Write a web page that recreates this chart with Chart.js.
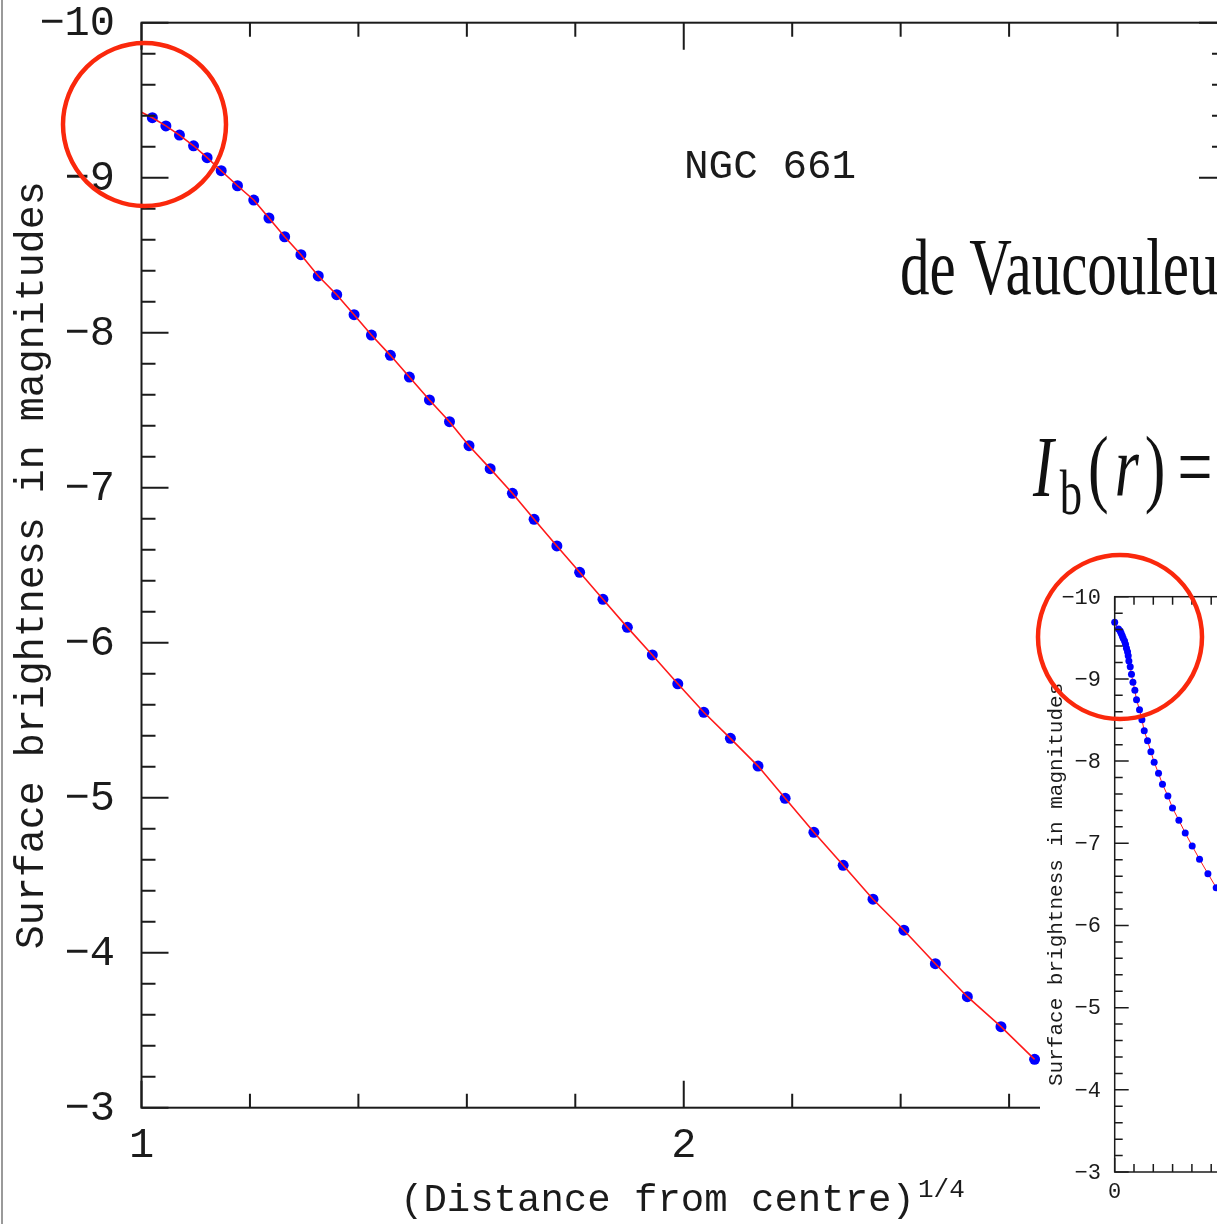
<!DOCTYPE html>
<html>
<head>
<meta charset="utf-8">
<script src="https://cdn.jsdelivr.net/npm/chart.js"></script>
<style>
  html, body { margin: 0; padding: 0; background: #fff; overflow: hidden; }
  #page { position: relative; width: 1217px; height: 1224px; overflow: hidden; background: #fff; }
  #main { position: absolute; left: 0; top: 0; }
  #inset { position: absolute; left: 1030px; top: 190px; }
  #edge { position: absolute; left: 1px; top: 0; width: 2px; height: 1224px; background: #9a9a9a; }
  .tex { position: absolute; font-family: "Liberation Serif", serif; color: #111; white-space: nowrap; transform-origin: 0 0; line-height: 1; }
  #title1 { left: 900px; top: 228px; font-size: 59px; transform: scaleY(1.35); }
  #formula { left: 1033px; top: 423px; font-size: 62px; letter-spacing: 6px; transform: scaleY(1.4); }
  #formula i { font-style: italic; }
  #formula .sub { font-size: 0.72em; vertical-align: -13px; }
  #formula .eq { margin-left: 6px; }
</style>
</head>
<body>
<div id="page">
  <canvas id="main" width="1240" height="1224"></canvas>
  <canvas id="inset" width="480" height="1034"></canvas>
  <div id="edge"></div>
  <div class="tex" id="title1">de Vaucouleurs</div>
  <div class="tex" id="formula"><i>I</i><span class="sub">b</span>(<i>r</i>)<span class="eq">=</span></div>
</div>
<script>
// main panel: surface brightness vs (distance)^1/4
const mainX = [1.020, 1.045, 1.070, 1.096, 1.121, 1.147, 1.177, 1.207, 1.235, 1.264,
  1.294, 1.326, 1.360, 1.392, 1.424, 1.459, 1.494, 1.531, 1.568, 1.604,
  1.643, 1.684, 1.724, 1.766, 1.808, 1.851, 1.896, 1.942, 1.989, 2.037,
  2.086, 2.137, 2.187, 2.240, 2.294, 2.349, 2.406, 2.464, 2.523, 2.585, 2.647];
const mainY = [-9.387, -9.334, -9.275, -9.206, -9.129, -9.045, -8.948, -8.856, -8.740, -8.619,
  -8.503, -8.366, -8.245, -8.116, -7.985, -7.854, -7.714, -7.566, -7.426, -7.271,
  -7.123, -6.964, -6.796, -6.624, -6.454, -6.280, -6.099, -5.921, -5.735, -5.551,
  -5.383, -5.204, -4.996, -4.777, -4.564, -4.345, -4.145, -3.929, -3.716, -3.523, -3.312];
const fitStart = [1.0, -9.422]; // red curve begins on the axis

// inset panel: surface brightness vs distance
const insetR = [0.0, 0.39, 0.57, 0.67, 0.78, 0.88, 1.02, 1.12, 1.22, 1.33,
  1.40, 1.47, 1.61, 1.74, 1.89, 2.09, 2.26, 2.57, 2.82, 3.06,
  3.40, 3.75, 4.09, 4.54, 4.95, 5.51, 5.99, 6.65, 7.31, 8.03,
  8.79, 9.66, 10.52];
const insetMag = [-9.689, -9.607, -9.583, -9.555, -9.526, -9.494, -9.461, -9.421, -9.372, -9.331,
  -9.282, -9.218, -9.148, -9.056, -8.959, -8.861, -8.747, -8.625, -8.504, -8.370,
  -8.248, -8.114, -7.985, -7.852, -7.718, -7.575, -7.429, -7.280, -7.125, -6.967,
  -6.805, -6.630, -6.460];

const yTicks = [-10, -9, -8, -7, -6, -5, -4, -3];
const xTicks = [1, 2, 3];
const insetXTicks = [0, 20, 40];

const MONO = '"Liberation Mono", monospace';
const INK = "#1b1b1b";
const CIRCLE = "rgb(250, 40, 12)";

const lab = (v) => (v < 0 ? "\u2212" + Math.abs(v) : String(v));
const pts = (xs, ys) => xs.map((x, i) => ({ x, y: ys[i] }));

// frame with inward major/minor ticks on all four sides
function drawFrame(chart, o) {
  const { ctx, chartArea: a } = chart;
  const xs = chart.scales.x, ys = chart.scales.y;
  ctx.save();
  ctx.strokeStyle = INK;
  ctx.lineWidth = o.lw;
  ctx.strokeRect(a.left, a.top, a.right - a.left, a.bottom - a.top);
  ctx.beginPath();
  const ny = Math.round((ys.max - ys.min) / o.yStep);
  for (let k = 0; k <= ny; k++) {
    const py = ys.getPixelForValue(ys.min + k * o.yStep);
    const len = k % o.yEvery === 0 ? o.major : o.minor;
    ctx.moveTo(a.left, py); ctx.lineTo(a.left + len, py);
    ctx.moveTo(a.right, py); ctx.lineTo(a.right - len, py);
  }
  const nx = Math.round((xs.max - xs.min) / o.xStep);
  for (let k = 0; k <= nx; k++) {
    const px = xs.getPixelForValue(xs.min + k * o.xStep);
    const len = k % o.xEvery === 0 ? o.major : o.minor;
    ctx.moveTo(px, a.bottom); ctx.lineTo(px, a.bottom - len);
    ctx.moveTo(px, a.top); ctx.lineTo(px, a.top + len);
  }
  ctx.stroke();
  ctx.restore();
}

function drawLabels(chart, o) {
  const { ctx } = chart;
  const xs = chart.scales.x, ys = chart.scales.y;
  ctx.save();
  ctx.fillStyle = INK;
  ctx.font = o.tickFont;
  ctx.textAlign = "right";
  ctx.textBaseline = "middle";
  o.yTicks.forEach((v) => ctx.fillText(lab(v), o.yLabelX, ys.getPixelForValue(v) + o.yLabelDy));
  ctx.textAlign = "center";
  o.xTicks.forEach((v) => ctx.fillText(lab(v), xs.getPixelForValue(v), o.xLabelY));
  // vertical axis title
  ctx.font = o.yTitleFont;
  ctx.translate(o.yTitleX, (chart.chartArea.top + chart.chartArea.bottom) / 2);
  ctx.rotate(-Math.PI / 2);
  ctx.textAlign = "center";
  ctx.textBaseline = "alphabetic";
  ctx.fillText("Surface brightness in magnitudes", 0, 0);
  ctx.restore();
}

function ring(ctx, cx, cy, r) {
  ctx.save();
  ctx.strokeStyle = CIRCLE;
  ctx.lineWidth = 4.5;
  ctx.beginPath();
  ctx.arc(cx, cy, r, 0, Math.PI * 2);
  ctx.stroke();
  ctx.restore();
}

const mainDecor = {
  id: "mainDecor",
  afterDraw(chart) {
    drawFrame(chart, { lw: 2, major: 27, minor: 14, yStep: 0.2, yEvery: 5, xStep: 0.2, xEvery: 5 });
    drawLabels(chart, {
      tickFont: "42px " + MONO, yTicks, xTicks,
      yLabelX: 115, yLabelDy: 1, xLabelY: 1146,
      yTitleFont: "40px " + MONO, yTitleX: 43
    });
    const { ctx } = chart;
    ctx.save();
    ctx.fillStyle = INK;
    ctx.textBaseline = "alphabetic";
    ctx.textAlign = "left";
    ctx.font = "39px " + MONO;
    ctx.fillText("(Distance from centre)", 400, 1211);
    ctx.font = "26px " + MONO;
    ctx.fillText("1/4", 918, 1197);
    ctx.font = "41px " + MONO;
    ctx.fillText("NGC 661", 684, 178);
    ctx.restore();
    ring(ctx, 144.5, 124.5, 81.5);
  }
};

const insetDecor = {
  id: "insetDecor",
  beforeDraw(chart) {
    const { ctx, width, height } = chart;
    ctx.save();
    ctx.fillStyle = "#fff";
    ctx.fillRect(10, 0, width - 10, height);
    ctx.restore();
  },
  afterDraw(chart) {
    drawFrame(chart, { lw: 1.5, major: 14, minor: 8, yStep: 0.2, yEvery: 5, xStep: 2, xEvery: 10 });
    drawLabels(chart, {
      tickFont: "22px " + MONO, yTicks, xTicks: insetXTicks,
      yLabelX: 71, yLabelDy: 1, xLabelY: 1002,
      yTitleFont: "21px " + MONO, yTitleX: 32
    });
    ring(chart.ctx, 90, 447, 82);
  }
};

new Chart(document.getElementById("main"), {
  type: "scatter",
  data: {
    datasets: [
      {
        label: "fit",
        data: [{ x: fitStart[0], y: fitStart[1] }].concat(pts(mainX, mainY)),
        showLine: true,
        borderColor: "#ff1a1a",
        borderWidth: 1.6,
        pointRadius: 0,
        clip: false
      },
      {
        label: "NGC 661",
        data: pts(mainX, mainY),
        showLine: false,
        pointRadius: 5.5,
        pointBackgroundColor: "#0000ff",
        pointBorderWidth: 0,
        clip: false
      }
    ]
  },
  options: {
    responsive: false,
    devicePixelRatio: 1,
    animation: false,
    layout: { padding: { left: 141.5, top: 22.7, right: 14, bottom: 116.3 } },
    plugins: { legend: { display: false }, tooltip: { enabled: false } },
    scales: {
      x: { type: "linear", min: 1, max: 3, display: false },
      y: { type: "linear", min: -10, max: -3, reverse: true, display: false }
    }
  },
  plugins: [mainDecor]
});

new Chart(document.getElementById("inset"), {
  type: "scatter",
  data: {
    datasets: [
      {
        label: "profile",
        data: pts(insetR, insetMag),
        showLine: true,
        borderColor: "#ff1a1a",
        borderWidth: 1,
        pointRadius: 3.5,
        pointBackgroundColor: "#0000ff",
        pointBorderWidth: 0,
        clip: false
      }
    ]
  },
  options: {
    responsive: false,
    devicePixelRatio: 1,
    animation: false,
    layout: { padding: { left: 84.7, top: 406.7, right: 9.3, bottom: 52 } },
    plugins: { legend: { display: false }, tooltip: { enabled: false } },
    scales: {
      x: { type: "linear", min: 0, max: 40, display: false },
      y: { type: "linear", min: -10, max: -3, reverse: true, display: false }
    }
  },
  plugins: [insetDecor]
});
</script>
</body>
</html>
